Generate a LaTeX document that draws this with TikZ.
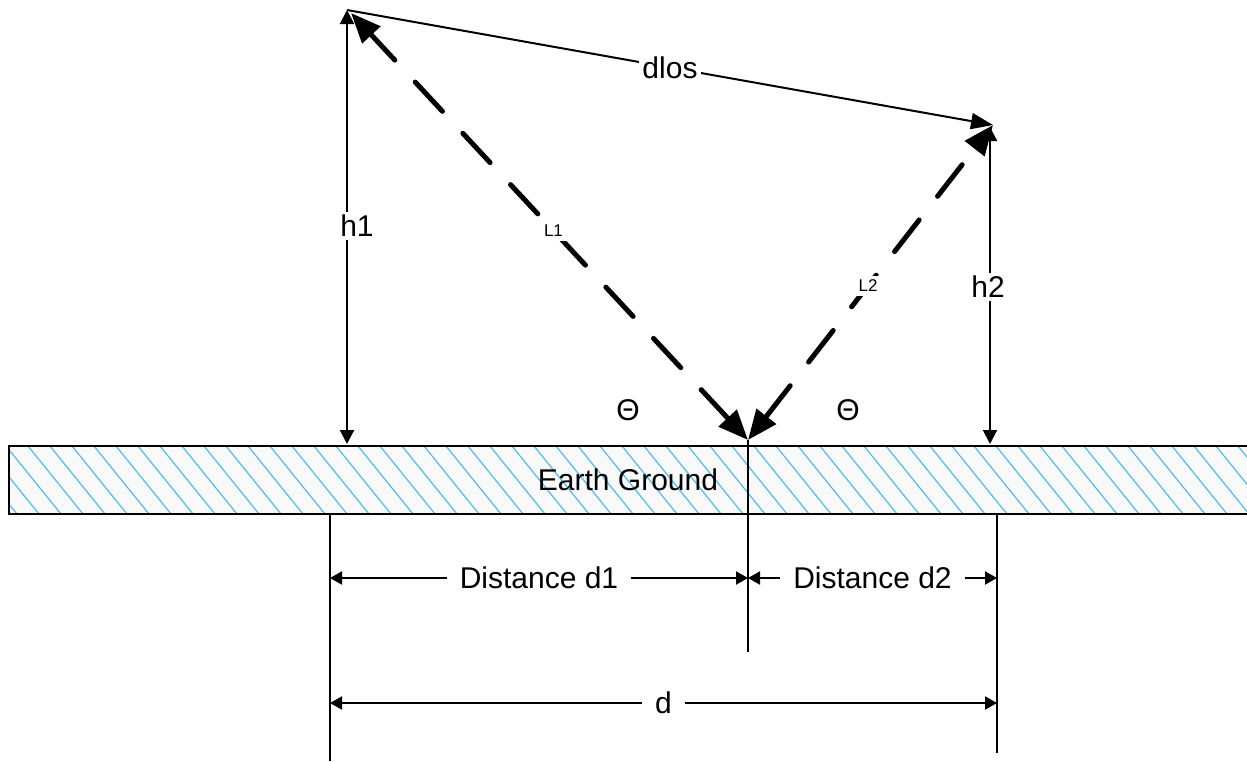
\documentclass[tikz,border=0pt]{standalone}
\usepackage{fontspec}
\setmainfont{Liberation Sans}
\usetikzlibrary{arrows.meta,calc}
\definecolor{hatchblue}{RGB}{85,185,228}

\begin{document}
\begin{tikzpicture}[x=0.5pt,y=-0.5pt]
        \tikzset{thinline/.style={line width=1pt},
          harrow/.style={thinline,{Triangle[length=7pt,width=7pt]}-{Triangle[length=7pt,width=7pt]}},
          dimarrow/.style={thinline,{Triangle[length=6pt,width=6.5pt]}-{Triangle[length=6pt,width=6.5pt]}},
          losarrow/.style={thinline,-{Triangle[length=11pt,width=8pt]}},
          rayarrow/.style={line width=2.5pt,line cap=round,dash pattern=on 20pt off 15pt,
            {Triangle[length=15pt,width=12pt]}-{Triangle[length=15pt,width=12pt]}},
          lbl/.style={fill=white,inner sep=1.5pt,font=\fontsize{15}{18}\selectfont},
          smalllbl/.style={fill=white,inner sep=2pt,font=\fontsize{8.5}{10}\selectfont},
          gaplbl/.style={lbl,inner xsep=6.5pt}}
        \useasboundingbox (0,0) rectangle (1247,761);

        % ground strip
        \fill[gray!5] (9,446) rectangle (1247,514);
        \begin{scope}
            \clip (9,446) rectangle (1247,514);
            \foreach \x in {-60,-38,...,1250}
                \draw[hatchblue,line width=0.6pt] (\x,446) -- ++(55,68);
        \end{scope}
        \draw[line width=1.3pt] (1248,446) -- (9,446) -- (9,514) -- (1248,514);
        \node[font=\fontsize{15}{18}\selectfont] (earth) at (628,480) {Earth Ground};

        % antennas and reflection point
        \coordinate (tx) at (347,10);
        \coordinate (txray) at (351,13);
        \coordinate (txfoot) at (347,444);
        \coordinate (rx) at (993,125);
        \coordinate (rxtop) at (990,127);
        \coordinate (rxfoot) at (990,444);
        \coordinate (refl) at (748,440);

        \draw[losarrow] (tx) -- node[lbl] (dlos) {dlos} (rx);
        \draw[harrow] (tx) -- (txfoot);
        \node[lbl] (h1) at (357,226) {h1};
        \draw[harrow] (rxtop) -- (rxfoot);
        \node[lbl] (h2) at (988,287) {h2};

        \draw[rayarrow] (refl) -- node[smalllbl,pos=0.49] (L1) {L1} (txray);
        \draw[rayarrow] (refl) -- node[smalllbl,pos=0.49] (L2) {L2} (rx);
        \node[font=\fontsize{15}{18}\selectfont] (thl) at (628,410) {Θ};
        \node[font=\fontsize{15}{18}\selectfont] (thr) at (848,410) {Θ};

        % distances
        \coordinate (dleft) at (330,514);
        \coordinate (dleftend) at (330,761);
        \coordinate (dmidend) at (748,652);
        \coordinate (dright) at (997,514);
        \coordinate (drightend) at (997,753);
        \draw[thinline] (dleft) -- (dleftend);
        \draw[thinline] (refl) -- (dmidend);
        \draw[thinline] (dright) -- (drightend);

        \coordinate (d1a) at (330,578);
        \coordinate (d1b) at (748,578);
        \coordinate (d2b) at (997,578);
        \coordinate (da) at (330,703);
        \coordinate (db) at (997,703);
        \draw[dimarrow] (d1a) -- node[gaplbl] (dist1) {Distance d1} (d1b);
        \draw[dimarrow] (d1b) -- node[gaplbl] (dist2) {Distance d2} (d2b);
        \draw[dimarrow] (da) -- node[gaplbl] (dtot) {d} (db);
\end{tikzpicture}
\end{document}
